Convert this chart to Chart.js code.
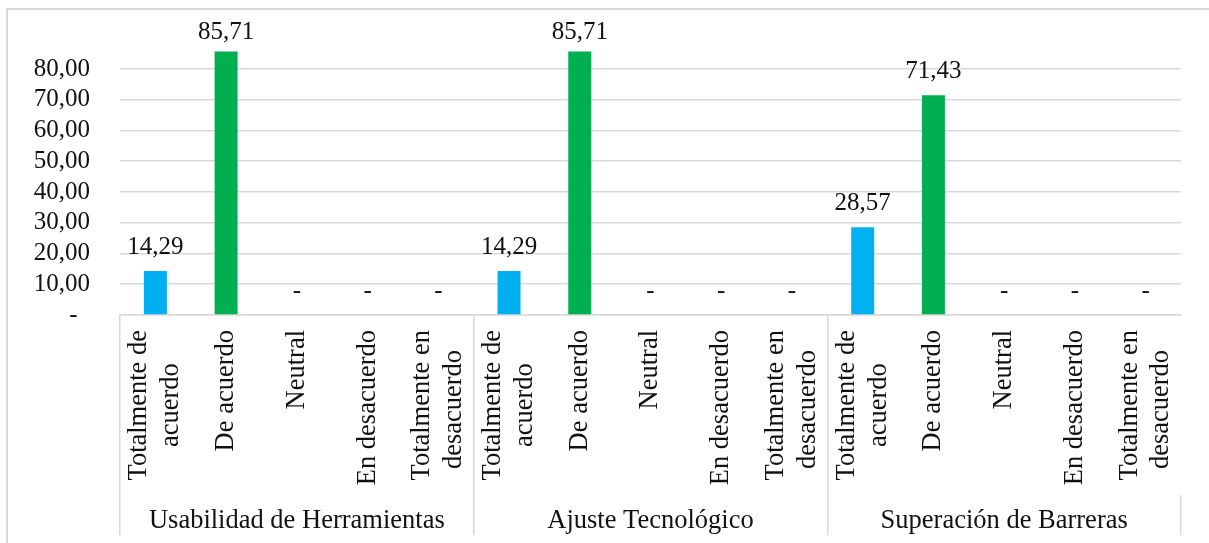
<!DOCTYPE html>
<html>
<head>
<meta charset="utf-8">
<script src="https://cdn.jsdelivr.net/npm/chart.js@4"></script>
<style>
  html, body { margin:0; padding:0; background:#fff; overflow:hidden; }
  #frame { position:absolute; left:6px; top:8px; width:1300px; height:600px; border:2px solid #d9d9d9; }
  #chart { position:absolute; left:0; top:0; }
</style>
</head>
<body>
<div id="frame"></div>
<canvas id="chart" width="1209" height="543"></canvas>
<script>
// Data
const groups = ['Usabilidad de Herramientas', 'Ajuste Tecnológico', 'Superación de Barreras'];
const responses = [
    ['Totalmente de', 'acuerdo\u00a0\u00a0\u00a0\u00a0\u00a0'],
    'De acuerdo',
    'Neutral',
    'En desacuerdo',
    ['Totalmente en', 'desacuerdo\u00a0\u00a0\u00a0']
];
const usabilidad = [14.29, 85.71, 0, 0, 0];
const ajuste     = [14.29, 85.71, 0, 0, 0];
const superacion = [28.57, 71.43, 0, 0, 0];
const yTicks = [0, 10, 20, 30, 40, 50, 60, 70, 80];
const yMax = 87.8;

const responseColors = ['#00B0F0', '#00B050', '#00B0F0', '#00B050', '#00B0F0'];
const family = '"Liberation Serif", "Times New Roman", serif';
const numFont = { family: family, size: 25 };
const txtFont = { family: family, size: 26.5, lineHeight: 1.2 };

const labels = [].concat(responses, responses, responses);
const values = [].concat(usabilidad, ajuste, superacion);
const colors = [].concat(responseColors, responseColors, responseColors);

const fmt = v => v === 0 ? '-' : v.toFixed(2).replace('.', ',');

// value labels above bars
const valueLabels = {
    id: 'valueLabels',
    afterDatasetsDraw(chart) {
        const ctx = chart.ctx;
        const meta = chart.getDatasetMeta(0);
        ctx.save();
        ctx.font = numFont.size + 'px ' + family;
        ctx.fillStyle = '#111';
        ctx.textAlign = 'center';
        ctx.textBaseline = 'alphabetic';
        meta.data.forEach((bar, i) => {
            const y = Math.max(bar.y - 17, 39);
            ctx.fillText(fmt(values[i]), bar.x, y);
        });
        ctx.restore();
    }
};

// center two-line rotated labels on their tick
const centerLines = {
    id: 'centerLines',
    beforeDraw(chart) {
        const items = chart.scales.x.getLabelItems();
        items.forEach(it => {
            if (Array.isArray(it.label) && !it._centered) {
                const lh = txtFont.size * txtFont.lineHeight;
                it.textOffset -= (it.label.length - 1) * lh / 2;
                it._centered = true;
            }
        });
    }
};

new Chart(document.getElementById('chart').getContext('2d'), {
    type: 'bar',
    data: {
        labels: labels,
        datasets: [{ data: values, backgroundColor: colors, categoryPercentage: 1, barPercentage: 0.325 }]
    },
    options: {
        responsive: false,
        animation: false,
        layout: { padding: { top: 30, right: 28, bottom: 0, left: 0 } },
        plugins: { legend: { display: false }, tooltip: { enabled: false } },
        scales: {
            y: {
                min: 0, max: yMax,
                afterFit: s => { s.width = 120; },
                afterBuildTicks: s => { s.ticks = yTicks.map(v => ({ value: v })); },
                border: { display: false },
                grid: { drawTicks: false, lineWidth: 1.5, color: '#d9d9d9' },
                ticks: {
                    autoSkip: false,
                    padding: 30,
                    color: '#111',
                    font: numFont,
                    callback: v => v === 0 ? '-\u00a0\u00a0' : fmt(v)
                }
            },
            x: {
                weight: 0,
                afterFit: s => { s.height = 180; },
                border: { display: true, color: '#d9d9d9', width: 1.5 },
                grid: {
                    offset: true,
                    drawOnChartArea: false,
                    tickLength: 180,
                    lineWidth: 1.5,
                    color: c => c.index % 5 === 0 ? '#d9d9d9' : 'rgba(0,0,0,0)'
                },
                ticks: {
                    autoSkip: false,
                    minRotation: 90, maxRotation: 90,
                    padding: -165,
                    color: '#111',
                    font: txtFont
                }
            },
            x2: {
                type: 'category',
                position: 'bottom',
                weight: 1,
                labels: groups,
                afterFit: s => { s.height = 48; },
                border: { display: false },
                grid: {
                    offset: true,
                    drawOnChartArea: false,
                    tickLength: 40,
                    lineWidth: 1.5,
                    color: '#d9d9d9'
                },
                ticks: {
                    autoSkip: false,
                    minRotation: 0, maxRotation: 0,
                    padding: -30,
                    color: '#111',
                    font: txtFont
                }
            }
        }
    },
    plugins: [valueLabels, centerLines]
});
</script>
</body>
</html>
